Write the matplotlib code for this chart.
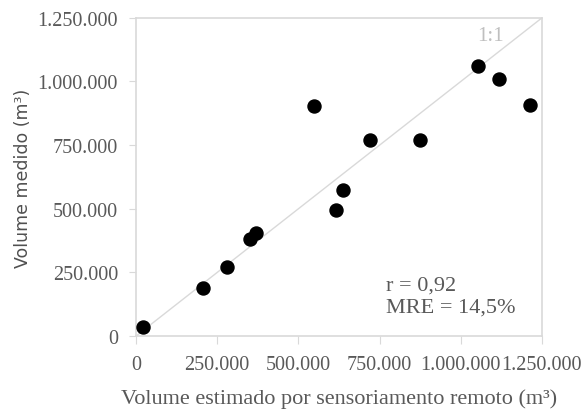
import matplotlib.pyplot as plt
from matplotlib.ticker import FuncFormatter

# volumes (m³): remote sensing estimate vs measured
estimado = [21500, 206000, 280000, 351000, 369000, 548000, 616000, 637000,
            720000, 874000, 1053000, 1118000, 1213000]
medido = [35000, 189000, 271000, 381000, 405000, 904000, 495000, 574000,
          770000, 770000, 1061000, 1010000, 908000]
ticks = [0, 250000, 500000, 750000, 1000000, 1250000]

gray = '#595959'
light = '#d9d9d9'


def fmt(v, pos):
    return f'{int(v):,}'.replace(',', '.')


fig = plt.figure(figsize=(5.84, 4.10), dpi=100)
ax = fig.add_axes([0.233, 0.178, 0.695, 0.776])

# 1:1 line
ax.plot([0, 1250000], [0, 1250000], color=light, lw=1, zorder=1)
ax.text(1090000, 1179000, '1:1', color='#bfbfbf', fontsize=15,
        family='Liberation Serif', ha='center', va='center')

ax.scatter(estimado, medido, s=88, color='black', zorder=3)

ax.set_xlim(0, 1250000)
ax.set_ylim(0, 1250000)
ax.set_xticks(ticks)
ax.set_yticks(ticks)
ax.xaxis.set_major_formatter(FuncFormatter(fmt))
ax.yaxis.set_major_formatter(FuncFormatter(fmt))

for s in ax.spines.values():
    s.set_color(light)
    s.set_linewidth(1.2)
ax.tick_params(colors=gray, labelsize=14.5, color=light, direction='out')
ax.tick_params(axis='x', length=6, pad=8)
ax.tick_params(axis='y', length=5, pad=8)
for lab in ax.get_xticklabels() + ax.get_yticklabels():
    lab.set_family('Liberation Serif')

ax.set_xlabel('Volume estimado por sensoriamento remoto (m³)', color=gray,
              fontsize=16, family='Liberation Serif', labelpad=10)
ax.set_ylabel('Volume medido (m³)', color='#505050', fontsize=12.5,
              family='DejaVu Sans', labelpad=4)

ax.text(770000, 200000, 'r = 0,92', color=gray, fontsize=16,
        family='Liberation Serif', va='center')
ax.text(770000, 112000, 'MRE = 14,5%', color=gray, fontsize=16,
        family='Liberation Serif', va='center')

plt.savefig('out.png')
plt.close()
